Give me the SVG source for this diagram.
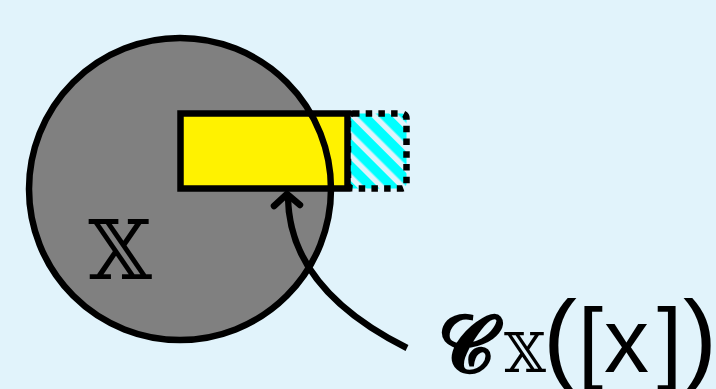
<svg xmlns="http://www.w3.org/2000/svg" width="716" height="389" viewBox="0 0 716 389">
<defs>
<pattern id="stripes" width="15" height="15" patternUnits="userSpaceOnUse" patternTransform="rotate(-45)">
<rect width="15" height="15" fill="#00ffff"/>
<rect width="5.5" height="15" fill="#e1f3fb"/>
</pattern>
</defs>
<style>
.ln{fill:none;stroke:#000;stroke-width:6.5}
.t{font-family:"DejaVu Serif","DejaVu Sans",serif;fill:#000}
</style>
<rect width="716" height="389" fill="#e1f3fb"/>
<g id="setX">
<circle cx="180" cy="189" r="151" fill="#808080"/>
</g>
<g id="ext">
<rect x="348" y="113.5" width="58.5" height="75" rx="5" fill="url(#stripes)" stroke="#000" stroke-width="6.5" stroke-dasharray="6.5 6.2"/>
</g>
<g id="box">
<rect x="180.5" y="113.5" width="167" height="75" fill="#fff200" stroke="#000" stroke-width="6.5"/>
</g>
<g id="setXoutline">
<circle cx="180" cy="189" r="151" class="ln"/>
<text class="t" x="120" y="279" font-size="82" text-anchor="middle">𝕏</text>
</g>
<g id="connectors">
<path class="ln" d="M407 348 Q289 289 288 197"/>
<path class="ln" d="M274 206 L287 194 L300 205" stroke-linecap="round" stroke-linejoin="round"/>
</g>
<g id="label">
<text y="372" fill="#000"><tspan x="438" font-size="78" font-family="'DejaVu Serif',serif" font-weight="bold">𝓒</tspan><tspan x="504" y="372" font-size="54" font-family="'DejaVu Serif','DejaVu Sans',serif">𝕏</tspan><tspan x="543" y="372" font-size="102" font-family="'Liberation Sans',sans-serif">(</tspan><tspan x="578" y="372" font-size="90" font-family="'Liberation Sans',sans-serif">[</tspan><tspan x="604" y="372" font-size="90" font-family="'Liberation Sans',sans-serif">x</tspan><tspan x="657" y="372" font-size="90" font-family="'Liberation Sans',sans-serif">]</tspan><tspan x="683" y="372" font-size="102" font-family="'Liberation Sans',sans-serif">)</tspan></text>
</g>
</svg>
